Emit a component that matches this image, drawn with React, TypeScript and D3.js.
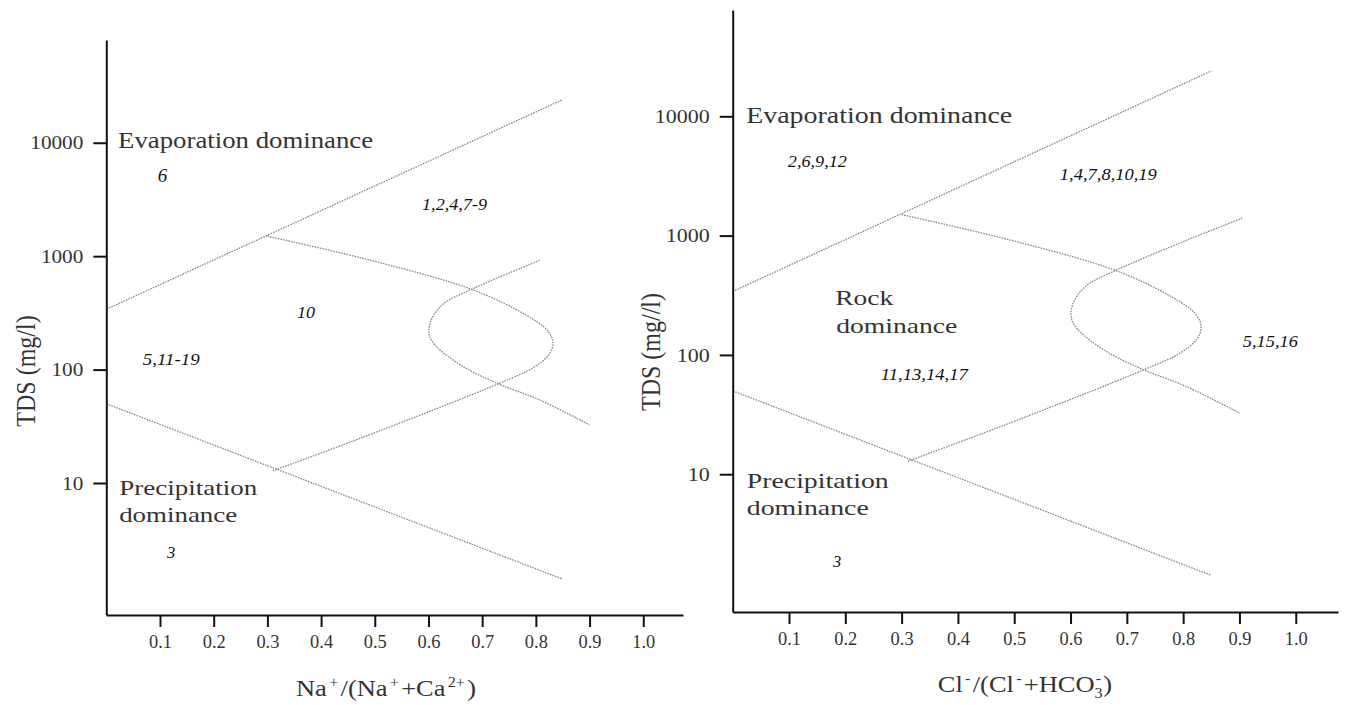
import React, { useRef, useEffect } from 'react';
import * as d3 from 'd3';

const xTickValues = [0.1, 0.2, 0.3, 0.4, 0.5, 0.6, 0.7, 0.8, 0.9, 1.0];
const yTickValues = [10, 100, 1000, 10000];

// Gibbs boundaries, [ratio, TDS mg/l]
const evaporationLine = [[0, 340], [0.85, 24000]];
const precipitationLine = [[0, 50], [0.85, 1.42]];
const rockCurveA = [
    [0.3, 1500], [0.5, 900], [0.68, 510], [0.78, 306], [0.822, 220], [0.832, 171],
    [0.824, 135], [0.795, 104], [0.73, 75], [0.475, 25], [0.31, 12.8]
];
const naRockCurveB = [
    [0.807, 918], [0.68, 510], [0.628, 380], [0.606, 280], [0.601, 208], [0.612, 165],
    [0.665, 106], [0.73, 75], [0.807, 54], [0.9, 32.6]
];
const clRockCurveB = [
    [0.905, 1400], [0.807, 918], [0.68, 510], [0.628, 380], [0.606, 280], [0.601, 208],
    [0.612, 165], [0.665, 106], [0.73, 75], [0.807, 54], [0.9, 32.6]
];

// annotations: text, ratio, TDS, width
const naRegionLabels = [
    ["Evaporation dominance", 0.022, 9000, 255],
    ["Precipitation", 0.024, 7.8, 138],
    ["dominance", 0.024, 4.5, 118],
];
const naSiteLabels = [
    ["6", 0.096, 4500, 0],
    ["1,2,4,7-9", 0.588, 2550, 65],
    ["10", 0.355, 285, 18],
    ["5,11-19", 0.068, 110, 57],
    ["3", 0.113, 2.2, 0],
];
const clRegionLabels = [
    ["Evaporation dominance", 0.024, 8800, 266],
    ["Rock", 0.182, 262, 58],
    ["dominance", 0.184, 152, 121],
    ["Precipitation", 0.025, 7.66, 142],
    ["dominance", 0.025, 4.55, 122],
];
const clSiteLabels = [
    ["2,6,9,12", 0.098, 3760, 59],
    ["1,4,7,8,10,19", 0.581, 2920, 97],
    ["11,13,14,17", 0.263, 61.6, 87],
    ["5,15,16", 0.906, 116, 55],
    ["3", 0.178, 1.67, 0],
];

// x titles: text pieces, 0 = normal, 1 = superscript, -1 = subscript, 2 = superscript stacked over previous
const naTitle = [["Na", 0], ["+", 1], ["/(Na", 0], ["+", 1], ["+Ca", 0], ["2+", 1], [")", 0]];
const clTitle = [["Cl", 0], ["-", 1], ["/(Cl", 0], ["-", 1], ["+HCO", 0], ["3", -1], ["-", 2], [")", 0]];

const panels = [
    {
        xRange: [106.3, 683], xMax: 1.074, yRange: [615, 40], yDomain: [0.686, 80500], digitW: 10.6,
        curveB: naRockCurveB, regions: naRegionLabels, sites: naSiteLabels,
        yTitle: "TDS (mg/l)", yTitlePos: [35, 371], xTitle: naTitle, xTitlePos: [386, 696],
    },
    {
        xRange: [732.7, 1338], xMax: 1.075, yRange: [612, 10], yDomain: [0.70, 77800], digitW: 11,
        curveB: clRockCurveB, regions: clRegionLabels, sites: clSiteLabels,
        yTitle: "TDS (mg//l)", yTitlePos: [660, 352], xTitle: clTitle, xTitlePos: [1025, 692],
    },
];

const FONT = '"Liberation Serif", "Times New Roman", serif';

const GibbsDiagrams = () => {
    const svgRef = useRef(null);

    useEffect(() => {
        const svg = d3.select(svgRef.current);
        svg.selectAll("*").remove();

        panels.forEach((p) => {
            const x = d3.scaleLinear().domain([0, p.xMax]).range(p.xRange);
            const y = d3.scaleLog().domain(p.yDomain).range(p.yRange);
            const g = svg.append("g");

            const line = d3.line().x(d => x(d[0])).y(d => y(d[1]));
            const curve = d3.line().x(d => x(d[0])).y(d => y(d[1])).curve(d3.curveCatmullRom.alpha(0.5));

            [[evaporationLine, line], [precipitationLine, line], [rockCurveA, curve], [p.curveB, curve]].forEach(([data, gen]) => {
                g.append("path")
                    .attr("d", gen(data))
                    .attr("fill", "none")
                    .attr("stroke", "#888")
                    .attr("stroke-width", 1.3)
                    .attr("stroke-dasharray", "1.6 1.1");
            });

            const xAxis = g.append("g")
                .attr("transform", `translate(0,${p.yRange[0]})`)
                .call(d3.axisBottom(x).tickValues(xTickValues).tickFormat(d3.format(".1f"))
                    .tickSizeOuter(0).tickSizeInner(12).tickPadding(8));
            xAxis.attr("font-size", 18);
            xAxis.selectAll("text").attr("textLength", 23).attr("lengthAdjust", "spacingAndGlyphs");

            const yAxis = g.append("g")
                .attr("transform", `translate(${x(0)},0)`)
                .call(d3.axisLeft(y).tickValues(yTickValues).tickFormat(d3.format("d"))
                    .tickSizeOuter(0).tickSizeInner(13).tickPadding(10));
            yAxis.attr("font-size", 19);
            yAxis.selectAll("text")
                .attr("textLength", d => String(d).length * p.digitW)
                .attr("lengthAdjust", "spacingAndGlyphs");

            [xAxis, yAxis].forEach(a => {
                a.attr("font-family", FONT);
                a.selectAll("path.domain, line").attr("stroke", "#111").attr("stroke-width", 2);
                a.selectAll("text").attr("fill", "#333");
            });

            p.regions.forEach(([t, rx, tds, w]) => {
                g.append("text")
                    .attr("x", x(rx)).attr("y", y(tds))
                    .attr("font-family", FONT)
                    .attr("font-size", t.startsWith("Evap") ? 23 : 22)
                    .attr("fill", "#333")
                    .attr("textLength", w)
                    .attr("lengthAdjust", "spacingAndGlyphs")
                    .text(t);
            });

            p.sites.forEach(([t, rx, tds, w]) => {
                const txt = g.append("text")
                    .attr("x", x(rx)).attr("y", y(tds))
                    .attr("font-family", FONT)
                    .attr("font-style", "italic")
                    .attr("font-size", t === "6" ? 19 : 16.5)
                    .attr("fill", "#111")
                    .text(t);
                if (w) txt.attr("textLength", w).attr("lengthAdjust", "spacingAndGlyphs");
            });

            g.append("text")
                .attr("transform", `translate(${p.yTitlePos[0]},${p.yTitlePos[1]}) scale(1.15,1) rotate(-90)`)
                .attr("text-anchor", "middle")
                .attr("font-family", FONT)
                .attr("font-size", 24)
                .attr("fill", "#333")
                .text(p.yTitle);

            const title = g.append("text")
                .attr("transform", `translate(${p.xTitlePos[0]},${p.xTitlePos[1]}) scale(1.15,1)`)
                .attr("text-anchor", "middle")
                .attr("font-family", FONT)
                .attr("font-size", 23)
                .attr("fill", "#333");
            let level = 0;
            p.xTitle.forEach(([t, kind]) => {
                const target = kind === 1 || kind === 2 ? -9 : kind === -1 ? 6 : 0;
                const ts = title.append("tspan")
                    .attr("dy", target - level)
                    .attr("font-size", kind === 0 ? 23 : 14)
                    .text(t);
                if (kind === 1) ts.attr("dx", 2);
                if (kind === 2) ts.attr("dx", -6);
                if (kind === 0 && level !== 0) ts.attr("dx", 2);
                level = target;
            });
        });
    }, []);

    return (
        <svg ref={svgRef} width={1345} height={705}
            style={{ position: 'absolute', left: 0, top: 0, background: '#fff' }} />
    );
};

export default function App() {
    return <GibbsDiagrams />;
}
